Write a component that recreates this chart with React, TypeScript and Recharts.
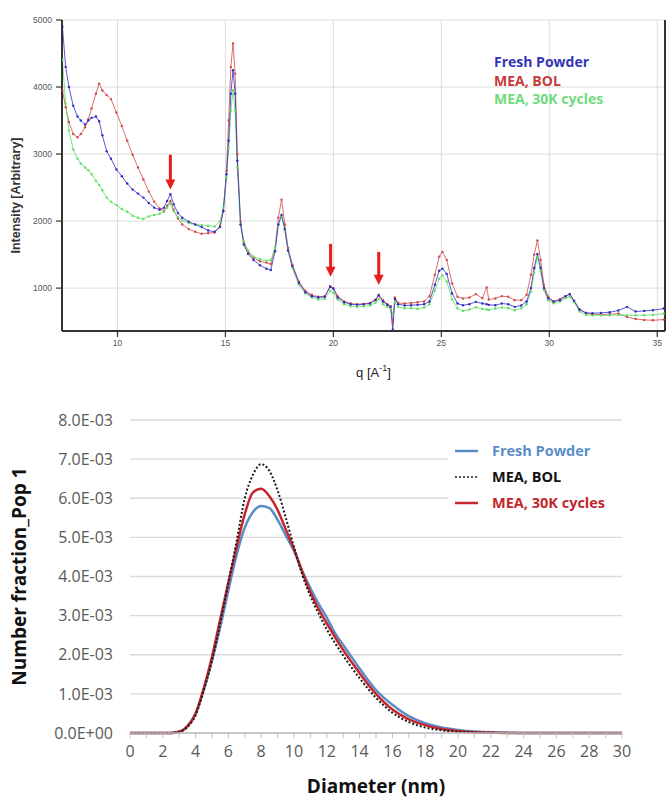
import { LineChart, Line, XAxis, YAxis, CartesianGrid, Legend, ReferenceLine, Label } from "recharts";

// ---- top panel: XRD patterns, intensity vs q ----
const xrdQ = [
  7.45, 7.6, 7.75, 7.95, 8.15, 8.3, 8.5, 8.65, 8.8, 9.0,
  9.15, 9.3, 9.5, 9.7, 9.95, 10.2, 10.45, 10.7, 10.95, 11.2,
  11.45, 11.7, 11.95, 12.15, 12.3, 12.45, 12.6, 12.8, 13.0, 13.3,
  13.6, 13.9, 14.2, 14.5, 14.75, 14.9, 15.05, 15.15, 15.25, 15.35,
  15.45, 15.55, 15.7, 15.85, 16.05, 16.3, 16.6, 16.9, 17.1, 17.3,
  17.45, 17.6, 17.75, 17.9, 18.1, 18.4, 18.7, 19.0, 19.3, 19.6,
  19.85, 20.0, 20.2, 20.5, 20.8, 21.1, 21.4, 21.7, 21.95, 22.1,
  22.3, 22.5, 22.65, 22.75, 22.85, 23.0, 23.3, 23.6, 23.9, 24.2,
  24.45, 24.7, 24.9, 25.05, 25.25, 25.5, 25.75, 26.0, 26.3, 26.6,
  26.9, 27.1, 27.2, 27.5, 27.8, 28.1, 28.4, 28.7, 28.95, 29.15,
  29.3, 29.45, 29.6, 29.75, 29.95, 30.2, 30.5, 30.75, 30.95, 31.15,
  31.4, 31.7, 32.0, 32.4, 32.8, 33.2, 33.6, 34.0, 34.4, 34.8,
  35.3,
];

const xrdFresh = [
  4900, 4300, 4000, 3720, 3560, 3500, 3440, 3500, 3540, 3560,
  3490, 3280, 3040, 2930, 2770, 2670, 2560, 2470, 2410, 2350,
  2270, 2200, 2170, 2200, 2300, 2400, 2250, 2120, 2050, 1990,
  1950, 1910, 1860, 1840, 1910, 2150, 2700, 3200, 3900, 4250,
  3900, 2900, 1950, 1650, 1510, 1420, 1340, 1290, 1270, 1550,
  1950, 2090, 1880, 1560, 1330, 1080, 940, 880, 860, 870,
  1020, 990, 860, 790, 760, 750, 760, 770, 820, 890,
  800, 750, 720, 380, 840, 760, 740, 745, 750, 760,
  800, 1050, 1260, 1290, 1210, 920, 770, 745, 760, 795,
  770, 760, 750, 745, 770, 760, 720, 740, 800, 1000,
  1300, 1510, 1300, 1000, 850, 800, 820, 880, 910, 810,
  680, 630, 625, 630, 640, 665, 720, 650, 660, 670,
  695,
];

const xrdBol = [
  3950, 3700, 3480, 3300, 3250, 3300, 3400, 3520, 3680, 3900,
  4050, 3950, 3880, 3820, 3620, 3420, 3200, 2990, 2800, 2620,
  2440, 2290, 2190, 2150, 2230, 2300, 2170, 2040, 1950, 1880,
  1840, 1810, 1820, 1830, 1930, 2150, 2750, 3500, 4300, 4650,
  4200, 3000, 2000, 1680, 1540, 1450, 1400, 1380, 1360, 1600,
  2050, 2320, 1950, 1600, 1350, 1100, 960, 900, 870, 880,
  1030, 1000, 880, 800, 770, 760, 765, 780, 830, 900,
  820, 760, 730, 480, 860, 780, 770, 780, 790, 800,
  880, 1200, 1470, 1540, 1420, 1070, 870, 845, 860, 910,
  850, 1010, 830, 845, 880, 870, 820, 820, 900, 1200,
  1500, 1710, 1420, 1050, 870, 800, 840, 880, 910, 810,
  680, 630, 610, 605, 610, 620, 570, 540, 525, 520,
  530,
];

const xrd30k = [
  4400, 3750, 3350, 3070, 2930, 2860, 2800, 2760, 2700, 2600,
  2540, 2460, 2350, 2290, 2240, 2180, 2140, 2080, 2050, 2030,
  2070, 2090, 2110, 2140, 2200, 2260, 2150, 2060, 2010, 1970,
  1950, 1940, 1930, 1920, 1990, 2200, 2650, 3100, 3650, 3950,
  3650, 2800, 1950, 1700, 1560, 1470, 1430, 1410, 1420, 1600,
  1950, 2080, 1870, 1560, 1300, 1050, 920, 860, 830, 840,
  960, 930, 830, 760, 730, 720, 730, 740, 780, 840,
  760, 720, 700, 600, 790, 720, 700, 700, 690, 710,
  760, 960, 1140, 1190, 1100, 830, 700, 660, 680, 715,
  690, 680, 675, 695, 710, 700, 670, 700, 760, 950,
  1230, 1460, 1250, 970, 820, 775, 800, 850, 870, 790,
  650, 600, 595, 595, 595, 600, 595, 595, 595, 600,
  620,
];

const xrdQTicks = [10, 15, 20, 25, 30, 35];
const xrdITicks = [1000, 2000, 3000, 4000, 5000];

// red arrows marking the small reflections
const arrowQ = [12.45, 19.87, 22.1];
const arrowFrom = [2990, 1660, 1540];
const arrowTo = [2470, 1170, 1050];

// ---- bottom panel: particle size distribution ----
const diameters = [
  0, 1, 2, 2.5, 3, 3.5, 4, 4.5, 5, 5.5, 6, 6.5, 7, 7.5, 8, 8.5, 9, 9.5, 10, 10.5,
  11, 11.5, 12, 12.5, 13, 13.5, 14, 15, 16, 17, 18, 19, 20, 21, 22, 23, 24, 25,
  26, 27, 28, 29, 30,
];
// values in units of 1E-03
const psdFresh = [
  0, 0, 0, 0, 0.03, 0.18, 0.5, 1.1, 1.85, 2.7, 3.65, 4.55, 5.25, 5.65, 5.8, 5.75, 5.45, 5.05, 4.65, 4.15,
  3.7, 3.3, 2.95, 2.55, 2.25, 1.95, 1.65, 1.1, 0.72, 0.43, 0.25, 0.14, 0.08, 0.04, 0.02, 0.01, 0, 0,
  0, 0, 0, 0, 0,
];
const psdBol = [
  0, 0, 0, 0, 0.03, 0.15, 0.45, 1.1, 1.85, 2.8, 3.85, 4.9, 6.0, 6.6, 6.87, 6.7, 6.2, 5.5, 4.75, 4.05,
  3.5, 3.05, 2.65, 2.3, 1.98, 1.68, 1.4, 0.9, 0.52, 0.28, 0.14, 0.07, 0.03, 0.015, 0.005, 0, 0, 0,
  0, 0, 0, 0, 0,
];
const psd30k = [
  0, 0, 0, 0, 0.03, 0.17, 0.5, 1.15, 1.95, 2.9, 3.85, 4.75, 5.6, 6.15, 6.24, 6.05, 5.7, 5.2, 4.7, 4.12,
  3.6, 3.17, 2.8, 2.45, 2.12, 1.82, 1.53, 1.0, 0.6, 0.35, 0.2, 0.1, 0.05, 0.02, 0.01, 0, 0, 0,
  0, 0, 0, 0, 0,
];
const diamTicks = Array.from({ length: 31 }, (_, i) => i);
const psdTicks = [0, 1, 2, 3, 4, 5, 6, 7, 8].map((v) => v * 1e-3);

const seriesNames = ["Fresh Powder", "MEA, BOL", "MEA, 30K cycles"];
const xrdColors = ["#2e2ec4", "#d24a4a", "#5fdf5f"];
const xrdLegendColors = ["#3434b4", "#c83a3a", "#6fdc7c"];
const psdColors = ["#5a8dc8", "#1a1a1a", "#c4262e"];

const xrdRows = xrdQ.map((q, i) => ({ q, fresh: xrdFresh[i], bol: xrdBol[i], k30: xrd30k[i] }));
const psdRows = diameters.map((d, i) => ({
  d,
  fresh: psdFresh[i] * 1e-3,
  bol: psdBol[i] * 1e-3,
  k30: psd30k[i] * 1e-3,
}));

const ARIAL = '"Liberation Sans", Arial, sans-serif';
const CAL = '"Open Sans", sans-serif';

function fmtSci(v: number) {
  if (v === 0) return "0.0E+00";
  const exp = Math.floor(Math.log10(Math.abs(v)) + 1e-9);
  const mant = v / Math.pow(10, exp);
  const sign = exp < 0 ? "-" : "+";
  return `${mant.toFixed(1)}E${sign}${String(Math.abs(exp)).padStart(2, "0")}`;
}

function ArrowShape(props: any) {
  const { x1, y1, x2, y2 } = props;
  if (x1 == null || y1 == null) return null;
  const top = Math.min(y1, y2);
  const tip = Math.max(y1, y2);
  const x = (x1 + x2) / 2;
  return (
    <g>
      <line x1={x} y1={top} x2={x} y2={tip - 8} stroke="#e81e1e" strokeWidth={3} />
      <polygon points={`${x - 5},${tip - 10} ${x + 5},${tip - 10} ${x},${tip}`} fill="#e81e1e" />
    </g>
  );
}

function TopLegend() {
  return (
    <div style={{ fontFamily: CAL, fontWeight: 700, fontSize: 14, lineHeight: "18.5px", whiteSpace: "nowrap" }}>
      {seriesNames.map((n, i) => (
        <div key={n} style={{ color: xrdLegendColors[i] }}>
          {n}
        </div>
      ))}
    </div>
  );
}

function BottomLegend() {
  return (
    <div style={{ fontFamily: CAL, fontWeight: 700, fontSize: 14.5, lineHeight: "26px", whiteSpace: "nowrap" }}>
      {seriesNames.map((n, i) => (
        <div key={n} style={{ display: "flex", alignItems: "center", color: i === 1 ? "#111" : psdColors[i] }}>
          <svg width={30} height={10} style={{ marginLeft: 7, marginRight: 7 }}>
            <line
              x1={0}
              y1={5}
              x2={23}
              y2={5}
              stroke={psdColors[i]}
              strokeWidth={i === 1 ? 1.6 : 2.5}
              strokeDasharray={i === 1 ? "2 2" : undefined}
            />
          </svg>
          {n}
        </div>
      ))}
    </div>
  );
}

export default function App() {
  const axisDark = { stroke: "#333", strokeWidth: 2 };
  const tickDark = { stroke: "#333", strokeWidth: 1.2 };
  return (
    <div style={{ position: "absolute", left: 0, top: 0, width: 670, height: 798, background: "#fff" }}>
      <LineChart width={670} height={390} data={xrdRows} margin={{ top: 20, right: 0, bottom: 29, left: 0 }}>
        <CartesianGrid stroke="#dddddd" />
        <XAxis
          dataKey="q"
          type="number"
          domain={[7.43, 35.36]}
          allowDataOverflow
          ticks={xrdQTicks}
          height={30}
          tickSize={6}
          tickMargin={3}
          axisLine={axisDark}
          tickLine={tickDark}
          tick={{ fontSize: 8.5, fill: "#555", fontFamily: ARIAL }}
        >
          <Label
            content={(p: any) => {
              const vb = p.viewBox || { x: 62, width: 603 };
              const cx = vb.x + vb.width / 2 + 10;
              return (
                <text x={cx} y={377} textAnchor="middle" fontFamily={ARIAL} fontSize={13} fill="#222">
                  q [A<tspan dy={-6} fontSize={9}>-1</tspan>
                  <tspan dy={6}>]</tspan>
                </text>
              );
            }}
          />
        </XAxis>
        <XAxis
          xAxisId="top"
          orientation="top"
          type="number"
          domain={[7.43, 35.36]}
          allowDataOverflow
          ticks={xrdQTicks}
          height={0}
          tickSize={6}
          tick={false}
          axisLine={axisDark}
          tickLine={tickDark}
        />
        <YAxis
          type="number"
          domain={[360, 5000]}
          allowDataOverflow
          ticks={xrdITicks}
          width={62}
          tickSize={6}
          tickMargin={4}
          axisLine={axisDark}
          tickLine={tickDark}
          tick={{ fontSize: 8.5, fill: "#555", fontFamily: ARIAL }}
        >
          <Label
            content={(p: any) => {
              const vb = p.viewBox || { y: 20, height: 311 };
              const cy = vb.y + vb.height / 2 + 20;
              return (
                <text
                  x={16}
                  y={cy}
                  transform={`rotate(-90 16 ${cy})`}
                  textAnchor="middle"
                  dominantBaseline="central"
                  fontFamily={ARIAL}
                  fontWeight={700}
                  fontSize={12.5}
                  fill="#333"
                >
                  Intensity [Arbitrary]
                </text>
              );
            }}
          />
        </YAxis>
        <YAxis
          yAxisId="right"
          orientation="right"
          type="number"
          domain={[360, 5000]}
          allowDataOverflow
          ticks={xrdITicks}
          width={5}
          tickSize={5}
          tick={false}
          axisLine={axisDark}
          tickLine={tickDark}
        />
        <Line dataKey="bol" name={seriesNames[1]} stroke={xrdColors[1]} strokeWidth={0.8} dot={{ r: 1.2, fill: xrdColors[1], stroke: "none" }} isAnimationActive={false} />
        <Line dataKey="k30" name={seriesNames[2]} stroke={xrdColors[2]} strokeWidth={0.8} dot={{ r: 1.2, fill: xrdColors[2], stroke: "none" }} isAnimationActive={false} />
        <Line dataKey="fresh" name={seriesNames[0]} stroke={xrdColors[0]} strokeWidth={0.8} dot={{ r: 1.2, fill: xrdColors[0], stroke: "none" }} isAnimationActive={false} />
        {arrowQ.map((q, i) => (
          <ReferenceLine
            key={q}
            segment={[
              { x: q, y: arrowFrom[i] },
              { x: q, y: arrowTo[i] },
            ]}
            shape={ArrowShape}
          />
        ))}
        <Legend
          layout="vertical"
          align="center"
          verticalAlign="middle"
          content={<TopLegend />}
          wrapperStyle={{ left: 494, top: 53, right: "auto", bottom: "auto", width: "auto" }}
        />
      </LineChart>

      <LineChart width={670} height={408} data={psdRows} margin={{ top: 30, right: 48, bottom: 0, left: 0 }}>
        <CartesianGrid vertical={false} stroke="#d9d9d9" strokeWidth={1.3} />
        <XAxis
          dataKey="d"
          type="number"
          domain={[0, 30]}
          ticks={diamTicks}
          interval={0}
          tickFormatter={(v: number) => (v % 2 === 0 ? String(v) : "")}
          height={65}
          tickSize={5}
          tickMargin={8}
          axisLine={{ stroke: "#bfbfbf", strokeWidth: 1.3 }}
          tickLine={{ stroke: "#bfbfbf" }}
          tick={{ fontSize: 16, fill: "#595959", fontFamily: CAL }}
        >
          <Label
            content={(p: any) => {
              const vb = p.viewBox || { x: 130, width: 492 };
              return (
                <text x={vb.x + vb.width / 2} y={403} textAnchor="middle" fontFamily={CAL} fontWeight={700} fontSize={19} fill="#111">
                  Diameter (nm)
                </text>
              );
            }}
          />
        </XAxis>
        <YAxis
          type="number"
          domain={[0, 0.008]}
          ticks={psdTicks}
          tickFormatter={fmtSci}
          width={130}
          axisLine={false}
          tickLine={false}
          tickSize={6}
          tickMargin={11}
          tick={{ fontSize: 16, fill: "#595959", fontFamily: CAL }}
        >
          <Label
            content={(p: any) => {
              const vb = p.viewBox || { y: 30, height: 313 };
              const cy = vb.y + vb.height / 2;
              return (
                <text
                  x={19}
                  y={cy}
                  transform={`rotate(-90 19 ${cy})`}
                  textAnchor="middle"
                  dominantBaseline="central"
                  fontFamily={CAL}
                  fontWeight={700}
                  fontSize={19}
                  fill="#111"
                >
                  Number fraction_Pop 1
                </text>
              );
            }}
          />
        </YAxis>
        <Line type="monotone" dataKey="fresh" name={seriesNames[0]} stroke={psdColors[0]} strokeWidth={2.5} dot={false} isAnimationActive={false} />
        <Line type="monotone" dataKey="k30" name={seriesNames[2]} stroke={psdColors[2]} strokeWidth={2.5} dot={false} isAnimationActive={false} />
        <Line type="monotone" dataKey="bol" name={seriesNames[1]} stroke={psdColors[1]} strokeWidth={2} strokeDasharray="2 2" dot={false} isAnimationActive={false} />
        <Legend
          layout="vertical"
          align="center"
          verticalAlign="middle"
          content={<BottomLegend />}
          wrapperStyle={{ left: 448, top: 45, right: "auto", bottom: "auto", width: 174, background: "#fff", padding: "3px 0" }}
        />
      </LineChart>
    </div>
  );
}
